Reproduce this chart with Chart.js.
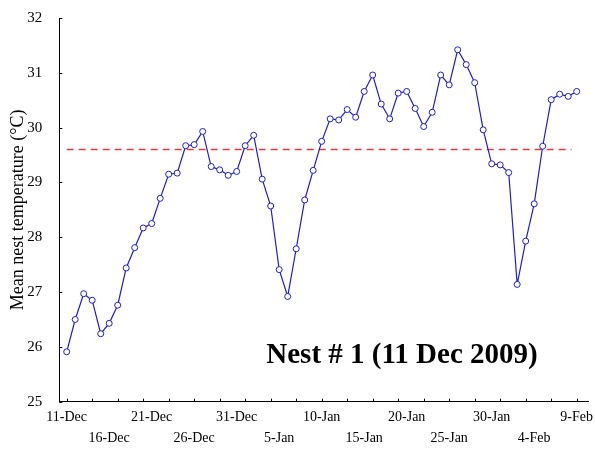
<!DOCTYPE html>
<html>
<head>
<meta charset="utf-8">
<script src="https://cdn.jsdelivr.net/npm/chart.js@4.4.0/dist/chart.umd.min.js"></script>
<style>
  html, body { margin: 0; padding: 0; background: #fff; }
  #wrap { width: 595px; height: 450px; position: relative; }
</style>
</head>
<body>
<div id="wrap"><canvas id="nest-temp" width="595" height="450"></canvas></div>
<script>
// day by day, 11 Dec 2009 .. 9 Feb 2010
const dates = [
    '11-Dec', '12-Dec', '13-Dec', '14-Dec', '15-Dec', '16-Dec', '17-Dec', '18-Dec', '19-Dec', '20-Dec',
    '21-Dec', '22-Dec', '23-Dec', '24-Dec', '25-Dec', '26-Dec', '27-Dec', '28-Dec', '29-Dec', '30-Dec',
    '31-Dec', '1-Jan', '2-Jan', '3-Jan', '4-Jan', '5-Jan', '6-Jan', '7-Jan', '8-Jan', '9-Jan',
    '10-Jan', '11-Jan', '12-Jan', '13-Jan', '14-Jan', '15-Jan', '16-Jan', '17-Jan', '18-Jan', '19-Jan',
    '20-Jan', '21-Jan', '22-Jan', '23-Jan', '24-Jan', '25-Jan', '26-Jan', '27-Jan', '28-Jan', '29-Jan',
    '30-Jan', '31-Jan', '1-Feb', '2-Feb', '3-Feb', '4-Feb', '5-Feb', '6-Feb', '7-Feb', '8-Feb',
    '9-Feb'
];
const temps = [
    25.91, 26.50, 26.97, 26.85, 26.24, 26.43, 26.76, 27.44, 27.81, 28.17,
    28.25, 28.71, 29.15, 29.17, 29.67, 29.69, 29.93, 29.29, 29.23, 29.13,
    29.20, 29.67, 29.86, 29.06, 28.57, 27.41, 26.92, 27.79, 28.68, 29.22,
    29.75, 30.16, 30.14, 30.33, 30.19, 30.66, 30.96, 30.43, 30.16, 30.63,
    30.66, 30.35, 30.02, 30.28, 30.96, 30.78, 31.42, 31.15, 30.82, 29.96,
    29.34, 29.32, 29.18, 27.14, 27.93, 28.61, 29.66, 30.51, 30.61, 30.57,
    30.66
];
const meanTemp = 29.6;
const meanSpan = [0, 59.4];
const yTicks = [25, 26, 27, 28, 29, 30, 31, 32];
const labelEvery = 5;   // date labels
const tickEvery = 3;    // small tick marks
const chartTitle = 'Nest # 1 (11 Dec 2009)';

const serif = '"Liberation Serif", "Times New Roman", serif';

const tempPoints = temps.map((t, i) => ({ x: i, y: t }));
const meanPoints = meanSpan.map(d => ({ x: d, y: meanTemp }));

const xTickDays = [];
for (let d = 0; d < dates.length; d++) {
    if (d % tickEvery === 0 || d % labelEvery === 0) xTickDays.push(d);
}

// small tick marks pointing into the plot, like the original
const innerTicks = {
    id: 'innerTicks',
    afterDraw(chart) {
        const ctx = chart.ctx;
        const xs = chart.scales.x, ys = chart.scales.y;
        ctx.save();
        ctx.strokeStyle = '#000';
        ctx.lineWidth = 1;
        ctx.beginPath();
        xTickDays.forEach(d => {
            if (d % tickEvery !== 0) return;
            const px = Math.round(xs.getPixelForValue(d)) + 0.5;
            ctx.moveTo(px, xs.top);
            ctx.lineTo(px, xs.top - 3);
        });
        yTicks.forEach(v => {
            const py = Math.round(ys.getPixelForValue(v)) + 0.5;
            ctx.moveTo(ys.right, py);
            ctx.lineTo(ys.right + 3, py);
        });
        ctx.stroke();
        ctx.restore();
    }
};

const nestLabel = {
    id: 'nestLabel',
    afterDraw(chart) {
        const ctx = chart.ctx;
        ctx.save();
        ctx.font = 'bold 29px ' + serif;
        ctx.fillStyle = '#000';
        ctx.textAlign = 'center';
        ctx.textBaseline = 'middle';
        ctx.fillText(chartTitle, 402, 356);
        ctx.restore();
    }
};

const ctx = document.getElementById('nest-temp').getContext('2d');
const nestChart = new Chart(ctx, {
    type: 'line',
    data: {
        datasets: [{
            label: 'Mean nest temperature',
            data: tempPoints,
            borderColor: 'rgb(30, 30, 200)',
            borderWidth: 1.2,
            pointRadius: 3,
            pointBorderWidth: 1,
            pointBackgroundColor: '#fff',
            pointBorderColor: 'rgb(30, 30, 200)',
            tension: 0
        }, {
            label: 'Overall mean',
            data: meanPoints,
            borderColor: 'rgb(225, 60, 60)',
            borderWidth: 1.5,
            borderDash: [7, 5],
            pointRadius: 0
        }]
    },
    options: {
        responsive: false,
        animation: false,
        layout: { padding: { top: 14.7, right: 7, bottom: 0, left: 0 } },
        plugins: {
            legend: { display: false },
            tooltip: { enabled: false }
        },
        scales: {
            x: {
                type: 'linear',
                min: -0.87,
                max: 61.33,
                grid: { display: false },
                border: { display: true, color: '#000', width: 1 },
                afterBuildTicks: (scale) => {
                    scale.ticks = xTickDays.map(d => ({ value: d }));
                },
                afterFit: (scale) => { scale.height = 48.3; },
                ticks: {
                    autoSkip: false,
                    maxRotation: 0,
                    padding: -3,
                    color: '#000',
                    font: { family: serif, size: 14, lineHeight: 1.5 },
                    callback: (value) => {
                        if (value % labelEvery !== 0) return '';
                        const row = (value / labelEvery) % 2;
                        return row === 0 ? [dates[value], ''] : ['', dates[value]];
                    }
                }
            },
            y: {
                min: 25,
                max: 32,
                grid: { display: false },
                border: { display: true, color: '#000', width: 1 },
                afterBuildTicks: (scale) => {
                    scale.ticks = yTicks.map(v => ({ value: v }));
                },
                afterFit: (scale) => { scale.width = 59.3; },
                ticks: {
                    padding: 9,
                    color: '#000',
                    font: { family: serif, size: 15 }
                },
                title: {
                    display: true,
                    text: 'Mean nest temperature (\u00B0C)',
                    color: '#000',
                    font: { family: serif, size: 18 },
                    padding: { top: 7, bottom: 0 }
                }
            }
        }
    },
    plugins: [innerTicks, nestLabel]
});
</script>
</body>
</html>
